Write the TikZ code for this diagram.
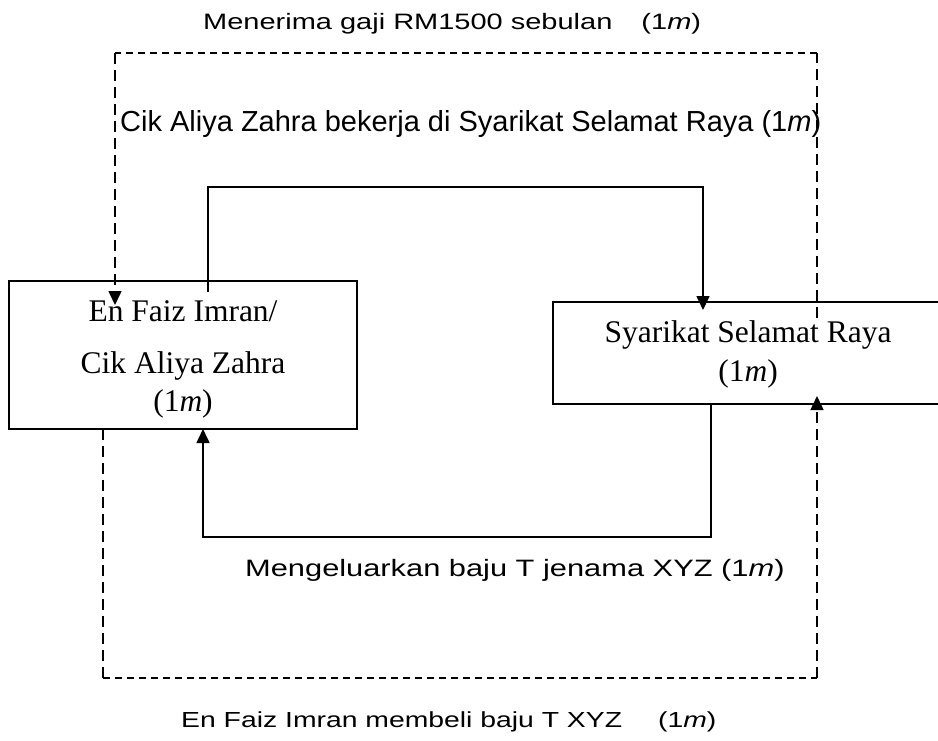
\documentclass[tikz,border=0pt]{standalone}
\usepackage{fontspec}
\setmainfont{Liberation Serif}
\newfontfamily\arialw[FakeStretch=1.3]{Liberation Sans}
\newfontfamily\arialn{Liberation Sans}
\usetikzlibrary{arrows.meta}
\begin{document}
\begin{tikzpicture}[x=1pt,y=-1pt,
  boxnode/.style={draw=black,line width=1.4pt,rectangle,inner sep=0pt,outer sep=0pt},
  seriftext/.style={anchor=base,inner sep=0pt,font=\fontsize{31.5}{36}\selectfont},
  lbltext/.style={anchor=base west,inner sep=0pt},
  conn/.style={draw=black,line width=1.6pt},
  dashH/.style={draw=black,line width=1.5pt,dash pattern=on 7pt off 5pt},
  dashV/.style={draw=black,line width=1.5pt,dash pattern=on 11pt off 6pt},
  tip/.style={-{Triangle[length=14pt,width=13pt]}}
]
\useasboundingbox (0,0) rectangle (938,740);
\clip (0,0) rectangle (938,740);
\fill[white] (0,0) rectangle (938,740);

% boxes
\node[boxnode,minimum width=348pt,minimum height=148pt] (L) at (183,355) {};
\node[boxnode,minimum width=390pt,minimum height=102pt] (R) at (748,353) {};

% box texts
\node[seriftext] (l1) at (183,321) {En Faiz Imran/};
\node[seriftext] (l2) at (183,373) {Cik Aliya Zahra};
\node[seriftext] (l3) at (183,411) {(1\textit{m})};
\node[seriftext] (r1) at (748,342) {Syarikat Selamat Raya};
\node[seriftext] (r2) at (748,381) {(1\textit{m})};

% labels
\node[lbltext,font=\arialw\fontsize{22.3}{26}\selectfont] (t1) at (203,29.5)
  {Menerima gaji RM1500 sebulan\hspace*{29pt}(1{\itshape m})};
\node[lbltext,font=\arialn\fontsize{29}{33}\selectfont] (t2) at (120,131.5)
  {Cik Aliya Zahra bekerja di Syarikat Selamat Raya (1{\itshape m})};
\node[lbltext,font=\arialw\fontsize{23.7}{28}\selectfont] (t3) at (245,576)
  {Mengeluarkan baju T jenama XYZ (1{\itshape m})};
\node[lbltext,font=\arialw\fontsize{21.8}{26}\selectfont] (t4) at (181,727)
  {En Faiz Imran membeli baju T XYZ\hspace*{36pt}(1{\itshape m})};

% connector end points
\coordinate (Lup) at (208,292);
\coordinate (Rdown) at (703,310);
\coordinate (topY) at (0,187);
\coordinate (Rout) at (711,404);
\coordinate (Lin) at (203,429);
\coordinate (botY) at (0,537);
\coordinate (Rsal) at (817,318);
\coordinate (Lsal) at (115,305);
\coordinate (dTopY) at (0,53);
\coordinate (Lbuy) at (103,429);
\coordinate (Rbuy) at (817,396);
\coordinate (dBotY) at (0,678);

% solid connectors
\draw[conn,tip] (Lup) -- (Lup |- topY) -| (Rdown);
\draw[conn,tip] (Rout) -- (Rout |- botY) -| (Lin);

% dashed connector: salary (Syarikat -> En Faiz)
\draw[dashV] (Rsal) -- (Rsal |- dTopY);
\draw[dashH] (Rsal |- dTopY) -- (Lsal |- dTopY);
\draw[dashV,tip] (Lsal |- dTopY) -- (Lsal);

% dashed connector: purchase (En Faiz -> Syarikat)
\draw[dashV] (Lbuy) -- (Lbuy |- dBotY);
\draw[dashH] (Lbuy |- dBotY) -- (Rbuy |- dBotY);
\draw[dashV,tip] (Rbuy |- dBotY) -- (Rbuy);
\end{tikzpicture}
\end{document}
